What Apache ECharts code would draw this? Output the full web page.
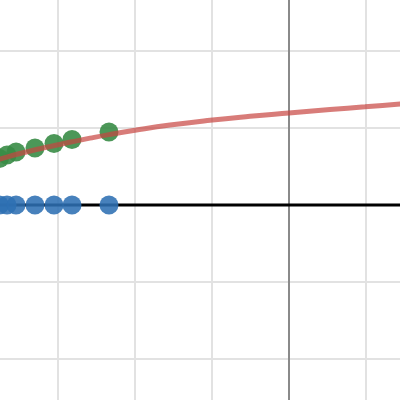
<!DOCTYPE html>
<html>
<head>
<meta charset="utf-8">
<script src="https://cdn.jsdelivr.net/npm/echarts@6/dist/echarts.min.js"></script>
<style>
html,body{margin:0;padding:0;background:#fff;width:400px;height:400px;overflow:hidden;position:relative}
#c{position:absolute;left:-19px;top:-26px;width:462px;height:462px}
</style>
</head>
<body>
<div id="c"></div>
<script>
// point x positions (graph units) shared by both point series
var pointX = [-3.76, -3.662, -3.545, -3.299, -3.052, -2.818, -2.338];
// green points (on the curve)
var greenY = [0.605, 0.649, 0.688, 0.740, 0.799, 0.851, 0.948];
// blue points (on y = 0)
var blueY = [0, 0, 0, 0, 0, 0, 0];
// red curve samples
var curveX = [-3.86, -3.753, -3.494, -3.234, -3.013, -2.818, -2.584, -2.338, -2.0, -1.545, -1.026, -0.506, 0, 0.532, 0.987, 1.442, 1.6];
var curveY = [0.565, 0.597, 0.669, 0.731, 0.779, 0.821, 0.868, 0.914, 0.971, 1.039, 1.101, 1.152, 1.195, 1.239, 1.275, 1.312, 1.325];
// black horizontal line y = 0
var lineX = [-4, 2];
var lineY = [0, 0];

function zip(a, b) { return a.map(function (v, i) { return [v, b[i]]; }); }

var chart = echarts.init(document.getElementById('c'), null, { renderer: 'canvas' });
chart.setOption({
  animation: false,
  backgroundColor: '#ffffff',
  grid: { left: 0, right: 0, top: 0, bottom: 0, containLabel: false },
  xAxis: {
    type: 'value', min: -4, max: 2, interval: 1,
    axisLine: { show: false }, axisTick: { show: false }, axisLabel: { show: false },
    splitLine: { show: true, lineStyle: { color: '#e2e2e2', width: 2 } }
  },
  yAxis: {
    type: 'value', min: -3, max: 3, interval: 1,
    axisLine: { show: true, onZero: true, lineStyle: { color: '#8a8a8a', width: 2 } },
    axisTick: { show: false }, axisLabel: { show: false },
    splitLine: { show: true, lineStyle: { color: '#e2e2e2', width: 2 } }
  },
  series: [
    {
      type: 'line', data: zip(lineX, lineY), showSymbol: false, silent: true,
      lineStyle: { color: '#000000', width: 3 }, z: 2
    },
    {
      type: 'scatter', data: zip(pointX, blueY), symbolSize: 19,
      itemStyle: { color: '#2d70b3', opacity: 0.88 }, z: 3
    },
    {
      type: 'scatter', data: zip(pointX, greenY), symbolSize: 19,
      itemStyle: { color: '#388c46', opacity: 0.9 }, z: 3
    },
    {
      type: 'line', data: zip(curveX, curveY), showSymbol: false, smooth: 0.5,
      lineStyle: { color: '#c74440', width: 5, opacity: 0.7 }, z: 4
    }
  ]
});
</script>
</body>
</html>
